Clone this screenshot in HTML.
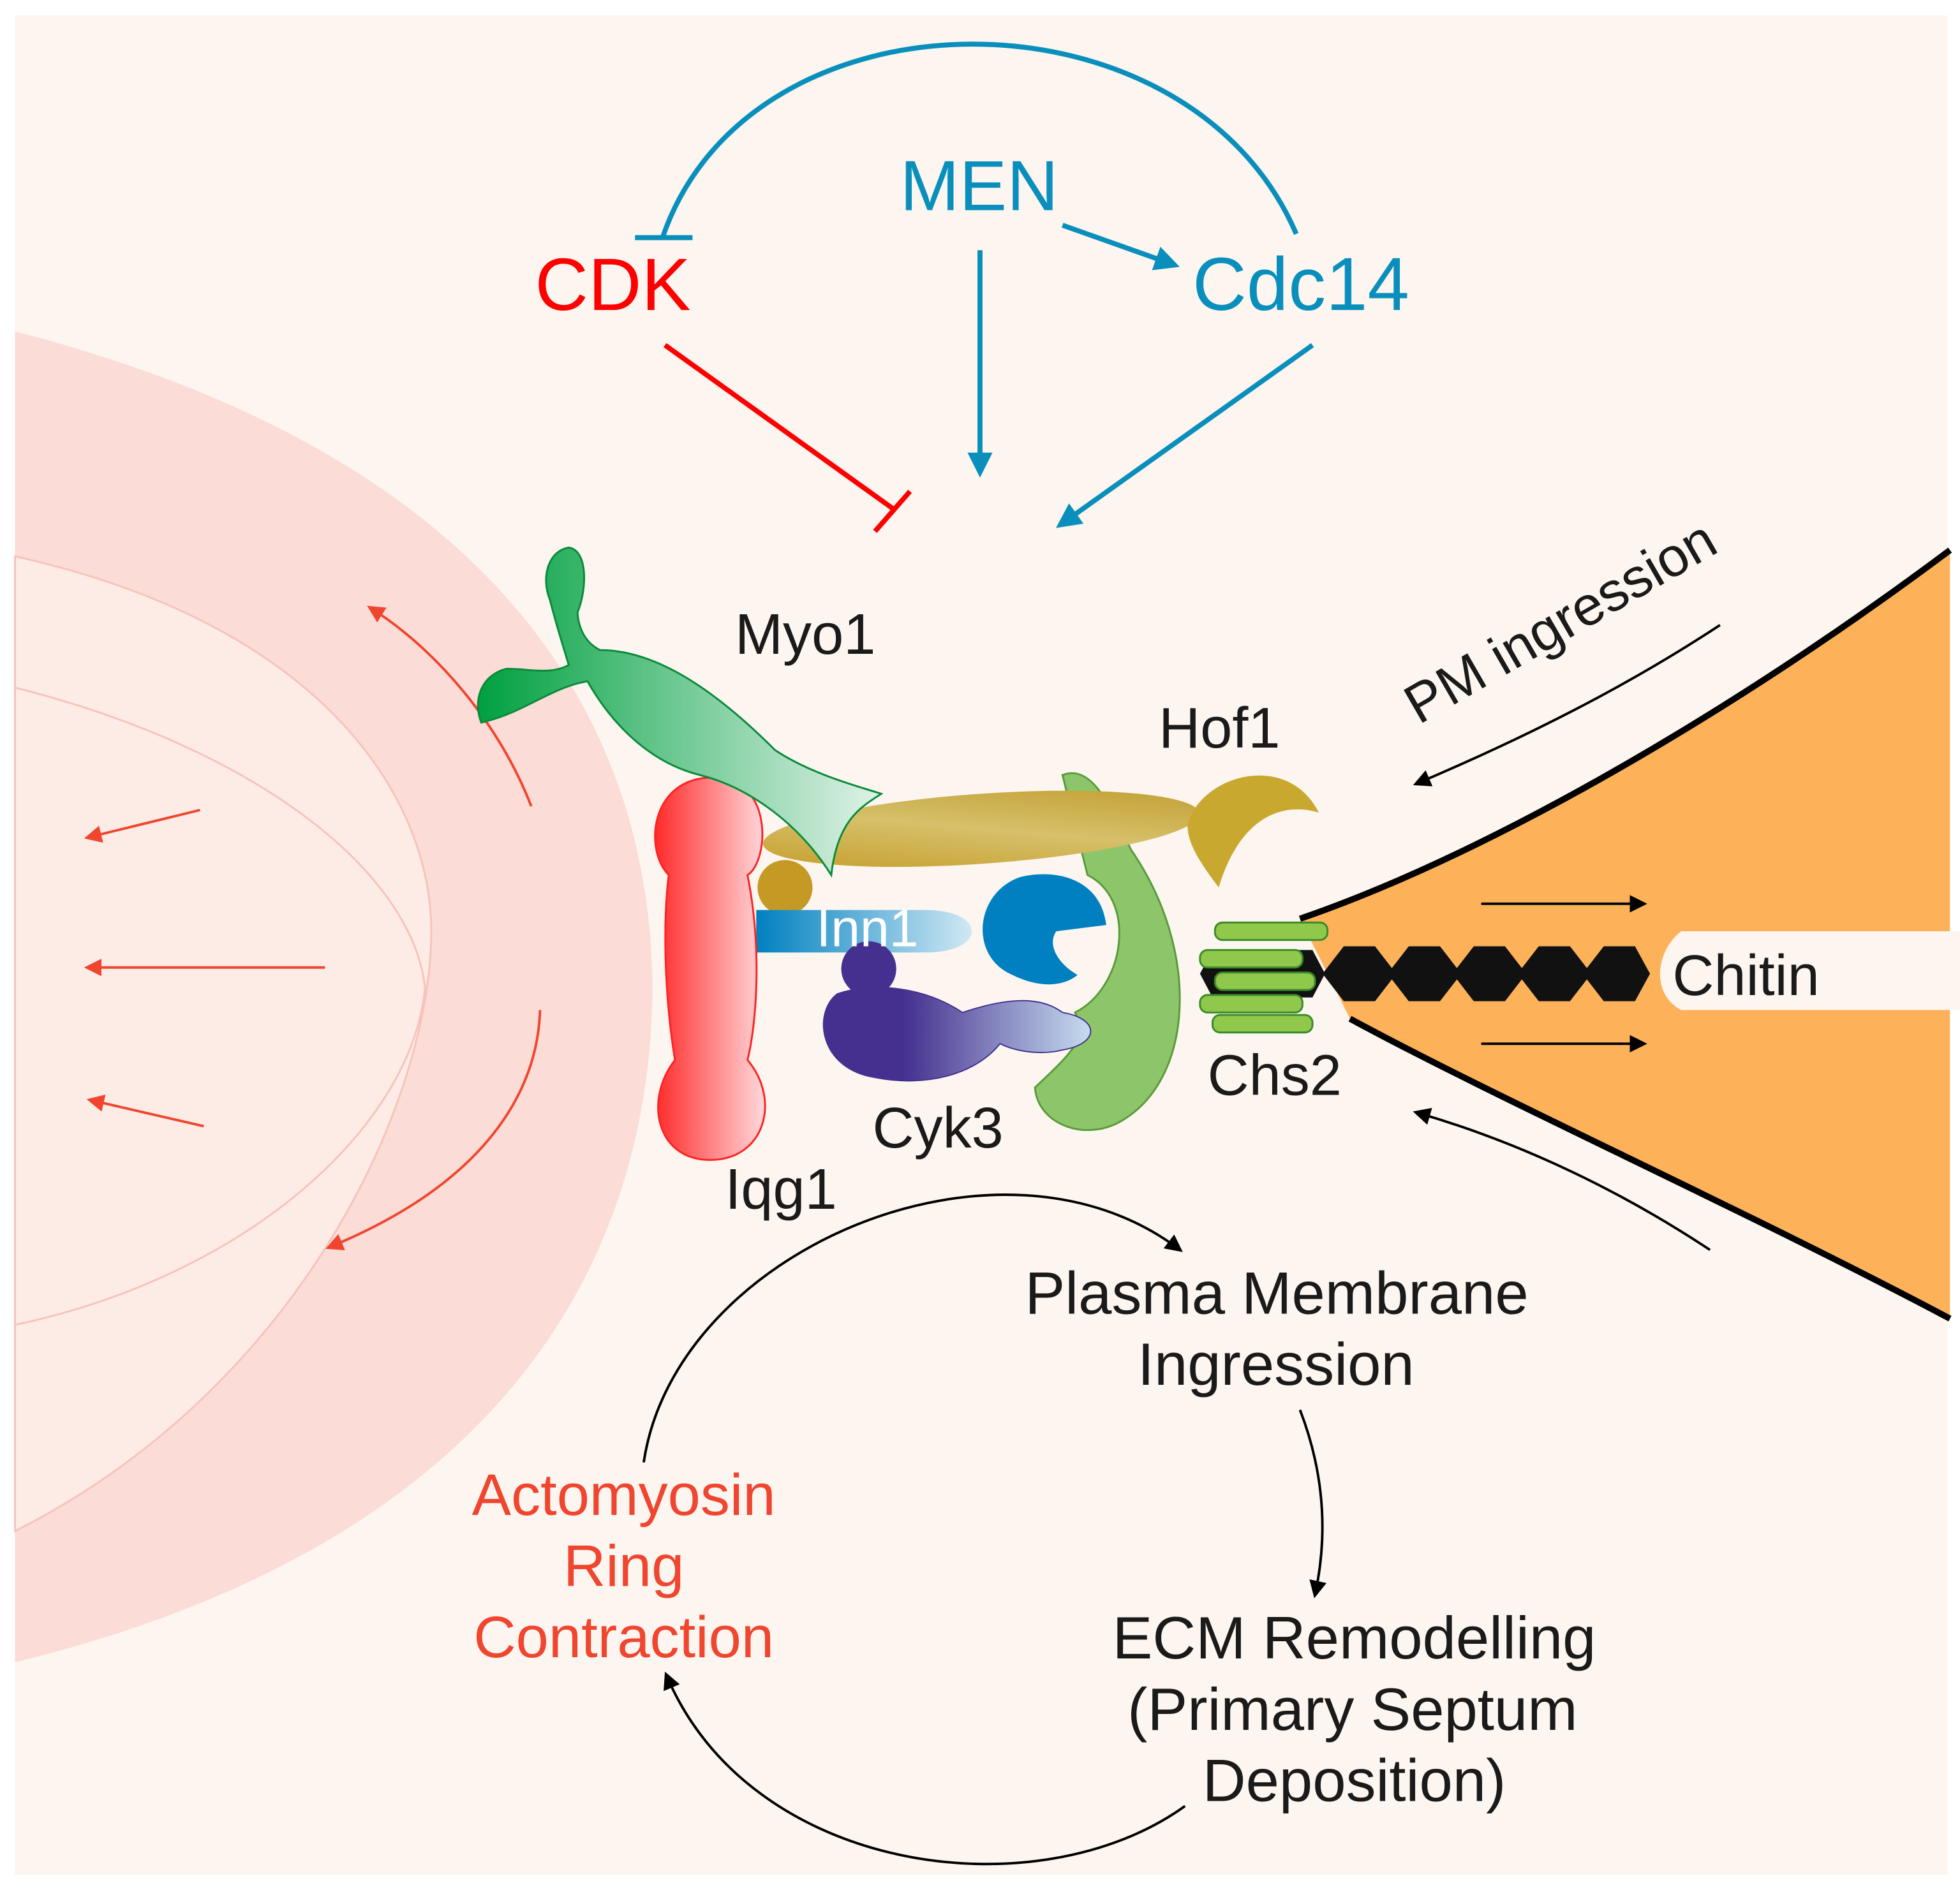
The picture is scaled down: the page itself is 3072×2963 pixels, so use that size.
<!DOCTYPE html>
<html><head><meta charset="utf-8"><style>
html,body{margin:0;padding:0;background:#fff}
svg{display:block}
text{font-family:"Liberation Sans",Arial,sans-serif}
</style></head><body>
<svg width="3072" height="2963" viewBox="0 0 1568 1512" xmlns="http://www.w3.org/2000/svg">
<defs>
<marker id="ab" viewBox="0 0 10 10" refX="8" refY="5" markerWidth="5" markerHeight="5" orient="auto"><path d="M0,0L10,5L0,10z" fill="#0a8fbd"/></marker>
<marker id="ak" viewBox="0 0 10 10" refX="8" refY="5" markerWidth="7" markerHeight="7" orient="auto"><path d="M0,0L10,5L0,10z" fill="#000"/></marker>
<marker id="ar" viewBox="0 0 10 10" refX="8" refY="5" markerWidth="7" markerHeight="7" orient="auto"><path d="M0,0L10,5L0,10z" fill="#f0452f"/></marker>
<linearGradient id="gr" x1="0" x2="1"><stop offset="0" stop-color="#ff2a2a"/><stop offset="1" stop-color="#ffd9dc"/></linearGradient>
<linearGradient id="gy" x1="0" x2="1" y1="1" y2="0"><stop offset="0" stop-color="#c49a25"/><stop offset="0.5" stop-color="#d6c06a"/><stop offset="1" stop-color="#bf9a2a"/></linearGradient>
<linearGradient id="gb" x1="0" x2="1"><stop offset="0" stop-color="#0080c0"/><stop offset="1" stop-color="#d0e8f4"/></linearGradient>
<linearGradient id="gp" x1="0" x2="1"><stop offset="0.3" stop-color="#45308f"/><stop offset="1" stop-color="#c6dcef"/></linearGradient>
<linearGradient id="gg" x1="0" x2="1"><stop offset="0" stop-color="#00a040"/><stop offset="1" stop-color="#e0f2e8"/></linearGradient>
</defs>
<rect width="1568" height="1512" fill="#fff"/>
<rect x="12" y="12" width="1546" height="1488" fill="#fdf6f0"/>
<path d="M12,265 C380,360 520,560 522,790 C520,1030 380,1240 12,1330 Z" fill="#fbdcd6"/>
<path d="M12,445 C260,500 345,640 345,745 C345,880 240,1110 12,1225 Z" fill="#fdece6" stroke="#f7c3bb" stroke-width="1.5"/>
<path d="M12,550 C210,600 330,700 340,790 C330,900 200,1020 12,1060" fill="none" stroke="#f7c3bb" stroke-width="1.5"/>
<g stroke="#f0452f" stroke-width="2" fill="none" marker-end="url(#ar)">
<path d="M425,645 C400,580 350,520 296,486"/>
<path d="M432,808 C430,880 380,950 263,998"/>
<line x1="160" y1="648" x2="70" y2="670"/>
<line x1="260" y1="774" x2="70" y2="774"/>
<line x1="163" y1="901" x2="72" y2="880"/>
</g>
<path d="M1040,735 C1200,680 1400,560 1560,440 L1560,1055 C1400,970 1200,880 1080,815 Z" fill="#fdb25a"/>
<path d="M1040,735 C1200,680 1400,560 1560,440" fill="none" stroke="#000" stroke-width="5"/>
<path d="M1080,815 C1200,880 1400,970 1560,1055" fill="none" stroke="#000" stroke-width="5"/>
<path d="M1568,745 L1345,745 C1325,760 1320,795 1345,808 L1568,808 Z" fill="#fdf6f0"/>
<g stroke="#000" stroke-width="2" marker-end="url(#ak)"><line x1="1185" y1="723" x2="1315" y2="723"/><line x1="1185" y1="835" x2="1315" y2="835"/></g>
<g fill="#111">
<path d="M1058,779 L1075,757 L1100,757 L1117,779 L1100,801 L1075,801Z"/>
<path d="M1110,779 L1127,757 L1152,757 L1169,779 L1152,801 L1127,801Z"/>
<path d="M1162,779 L1179,757 L1204,757 L1221,779 L1204,801 L1179,801Z"/>
<path d="M1214,779 L1231,757 L1256,757 L1273,779 L1256,801 L1231,801Z"/>
<path d="M1266,779 L1283,757 L1308,757 L1320,779 L1308,801 L1283,801Z"/>
<path d="M960,779 L970,760 L1050,760 L1060,779 L1050,798 L970,798Z"/>
</g>
<g fill="#8fc84a" stroke="#3a8a2a" stroke-width="1.5">
<rect x="972" y="738" width="90" height="14" rx="6"/>
<rect x="960" y="760" width="82" height="14" rx="6"/>
<rect x="972" y="778" width="80" height="14" rx="6"/>
<rect x="960" y="796" width="82" height="14" rx="6"/>
<rect x="970" y="812" width="80" height="14" rx="6"/>
</g>
<path d="M850,620 C875,610 890,650 905,680 C960,760 955,860 900,895 C870,915 830,900 828,870 C860,840 870,830 860,810 C900,790 910,720 870,700 Z" fill="#8dc66a" stroke="#5a9a3a" stroke-width="1.5"/>
<ellipse cx="785" cy="663" rx="175" ry="28" transform="rotate(-4 785 663)" fill="url(#gy)"/>
<ellipse cx="628" cy="710" rx="22" ry="22" fill="#c49a25"/>
<path d="M950,660 C960,620 1030,600 1055,650 C1020,640 990,660 975,710 C960,690 950,675 950,660Z" fill="#c9a830"/>
<path d="M605,728 L740,728 C790,728 790,762 740,762 L605,762 Z" fill="url(#gb)"/>
<path d="M885,740 C880,700 840,695 815,702 C780,715 775,765 810,780 C830,790 850,790 862,780 C845,770 838,755 845,745Z" fill="#0080c0"/>
<circle cx="695" cy="775" r="22" fill="#45308f"/>
<path d="M670,795 C700,785 740,790 770,810 C800,800 830,795 850,810 C880,815 880,835 850,840 C830,845 810,840 800,835 C780,860 740,870 700,862 C655,855 650,810 670,795Z" fill="url(#gp)" stroke="#45308f" stroke-width="1"/>
<path d="M570,622 C620,622 615,690 598,700 C610,760 605,820 598,848 C625,880 612,928 568,928 C525,928 515,880 540,848 C532,800 530,740 535,700 C515,680 520,622 570,622Z" fill="url(#gr)" stroke="#f22" stroke-width="1.5"/>
<path d="M455,438 C470,440 470,470 462,490 C463,505 470,515 480,520 C530,520 580,560 620,600 C650,620 690,630 705,635 C690,645 670,655 665,700 C640,660 600,630 560,620 C520,610 490,580 470,545 C440,550 420,570 385,578 C378,560 385,540 405,535 C425,535 440,540 455,532 C450,515 445,500 440,480 C432,460 440,440 455,438Z" fill="url(#gg)" stroke="#0a8a3a" stroke-width="1.5"/>
<path d="M530,190 C600,-16 950,-16 1037,187" fill="none" stroke="#0a8fbd" stroke-width="4"/>
<line x1="508" y1="190" x2="554" y2="190" stroke="#0a8fbd" stroke-width="4"/>
<text x="720" y="168" font-size="57" fill="#0a8fbd">MEN</text>
<text x="428" y="248" font-size="59" fill="#f00">CDK</text>
<text x="954" y="248" font-size="60" fill="#0a8fbd">Cdc14</text>
<g stroke="#0a8fbd" stroke-width="4" fill="none" marker-end="url(#ab)">
<line x1="850" y1="180" x2="940" y2="212"/>
<line x1="784" y1="200" x2="784" y2="378"/>
<line x1="1050" y1="276" x2="848" y2="420"/>
</g>
<line x1="532" y1="276" x2="716" y2="408" stroke="#f00" stroke-width="4"/>
<line x1="700" y1="425" x2="728" y2="393" stroke="#f00" stroke-width="4"/>
<g font-size="46" fill="#1a1a1a">
<text x="588" y="523">Myo1</text>
<text x="927" y="598">Hof1</text>
<text x="1338" y="796">Chitin</text>
<text x="966" y="876">Chs2</text>
<text x="698" y="918">Cyk3</text>
<text x="580" y="967">Iqg1</text>
</g>
<g font-size="48" fill="#1a1a1a">
<text x="820" y="1051">Plasma Membrane</text>
<text x="910" y="1108">Ingression</text>
<text x="890" y="1327">ECM Remodelling</text>
<text x="902" y="1384">(Primary Septum</text>
<text x="962" y="1441">Deposition)</text>
</g>
<text x="653" y="757" font-size="42" fill="#fff">Inn1</text>
<text x="0" y="0" font-size="44" fill="#1a1a1a" transform="translate(1135,580) rotate(-30)">PM ingression</text>
<g font-size="47" fill="#f0452f" text-anchor="middle">
<text x="499" y="1212">Actomyosin</text>
<text x="499" y="1269">Ring</text>
<text x="499" y="1326">Contraction</text>
</g>
<g stroke="#000" stroke-width="2" fill="none" marker-end="url(#ak)">
<path d="M1376,500 C1300,550 1220,590 1133,627"/>
<path d="M1368,1000 C1300,955 1220,915 1133,890"/>
<path d="M515,1170 C540,1000 800,890 944,1000"/>
<path d="M1040,1128 C1060,1180 1062,1230 1052,1276"/>
<path d="M948,1445 C830,1530 600,1500 533,1340"/>
</g>
</svg>
</body></html>
